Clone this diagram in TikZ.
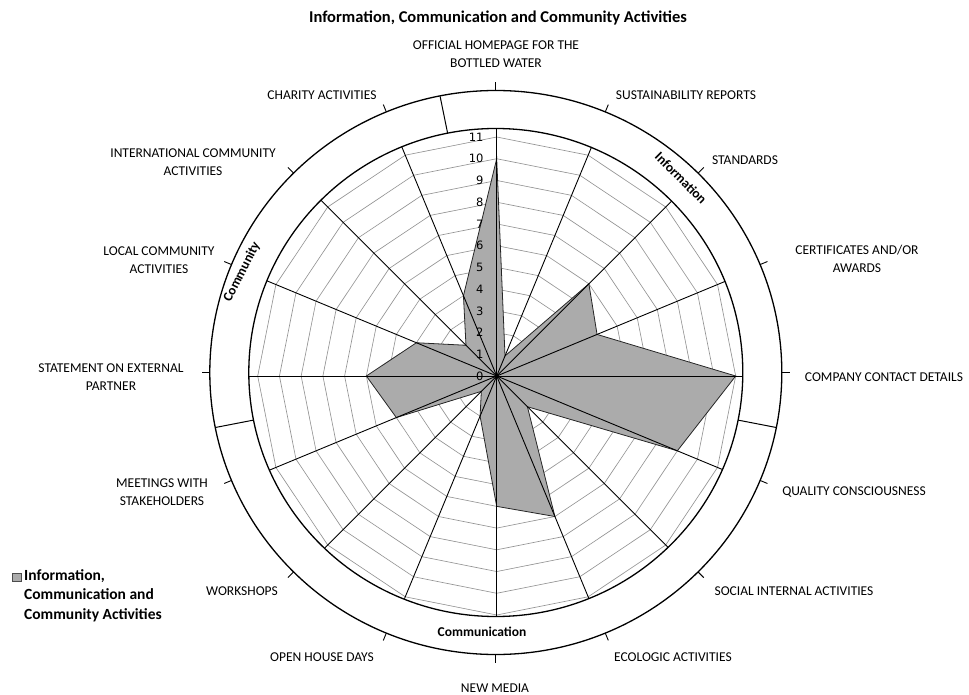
\documentclass[tikz,border=0pt]{standalone}
\usepackage{fontspec}
\setmainfont{Carlito}
\newfontfamily\numfont{DejaVu Sans}
\begin{document}
\begin{tikzpicture}[x=1pt,y=-1pt,
  cat/.style={font=\fontsize{13.5}{17.5}\selectfont, align=center, inner sep=0pt},
  sec/.style={font=\bfseries\fontsize{13.5}{15}\selectfont, inner sep=0pt},
  gridline/.style={draw=black!42, line width=0.65pt},
  spoke/.style={draw=black, line width=0.9pt},
  ring/.style={draw=black, line width=1.3pt},
  datafill/.style={fill=black!33, draw=black!85, line width=0.8pt},
  lvl/.style={font=\numfont\fontsize{11.5}{12}\selectfont, anchor=east, inner sep=0pt}]
\useasboundingbox (0,0) rectangle (969,695);
\node[font=\bfseries\fontsize{16.5}{18}\selectfont] (title) at (498,18) {Information, Communication and Community Activities};
% radar
\begin{scope}[shift={(496.7,376)}]
  \coordinate (O) at (0,0);
  \foreach \L in {1,...,11} {
    \draw[gridline] (-90:\L*21.727) \foreach \k in {1,...,15} { -- ({22.5*\k-90}:\L*21.727) } -- cycle;
  }
  \draw[datafill] (-90:10*21.727)
    \foreach \k/\v in {1/1,2/6,3/5,4/11,5/9,6/2,7/7,8/6,9/2,10/1,11/5,12/6,13/4,14/2,15/4}
      { -- ({22.5*\k-90}:\v*21.727) } -- cycle;
  \begin{scope}
    \clip (-0.7,-4) ellipse [x radius=247pt, y radius=244pt];
    \foreach \k in {0,...,15} { \draw[spoke] (O) -- ({22.5*\k-90}:300); }
  \end{scope}
  \fill (O) circle (2.2pt);
  \foreach \L in {0,...,11} { \node[lvl] (n\L) at (-13,{-\L*21.727}) {\L}; }
\end{scope}
% ring
\begin{scope}[shift={(495.8,372.5)}]
  \draw[ring] (0,0) ellipse [x radius=247pt, y radius=244pt];
  \draw[ring] (0,0) ellipse [x radius=286pt, y radius=282pt];
  \foreach \k in {0,...,15} { \draw[line width=0.9pt] ({22.5*\k-90}:286 and 282) -- ({22.5*\k-90}:294 and 290); }
  \foreach \p in {-101.25,-191.25,-348.75} { \draw[line width=1pt] (\p:247 and 244) -- (\p:286 and 282); }
\end{scope}
\node[sec, rotate=-45] (sinfo) at (681,178) {Information};
\node[sec, rotate=63] (scomm) at (242,272) {Community};
\node[sec] (scomn) at (482,632) {Communication};
% category labels
\node[cat] (c0) at (496,54) {OFFICIAL HOMEPAGE FOR THE\\BOTTLED WATER};
\node[cat] (c1) at (686,95) {SUSTAINABILITY REPORTS};
\node[cat] (c2) at (745,160) {STANDARDS};
\node[cat] (c3) at (857,259) {CERTIFICATES AND/OR\\AWARDS};
\node[cat] (c4) at (884,377) {COMPANY CONTACT DETAILS};
\node[cat] (c5) at (854,492) {QUALITY CONSCIOUSNESS};
\node[cat] (c6) at (794,591) {SOCIAL INTERNAL ACTIVITIES};
\node[cat] (c7) at (673,657) {ECOLOGIC ACTIVITIES};
\node[cat] (c8) at (495,688) {NEW MEDIA};
\node[cat] (c9) at (322,657) {OPEN HOUSE DAYS};
\node[cat] (c10) at (242,591) {WORKSHOPS};
\node[cat] (c11) at (162,492) {MEETINGS WITH\\STAKEHOLDERS};
\node[cat] (c12) at (111,377) {STATEMENT ON EXTERNAL\\PARTNER};
\node[cat] (c13) at (159,260) {LOCAL COMMUNITY\\ACTIVITIES};
\node[cat] (c14) at (193,162) {INTERNATIONAL COMMUNITY\\ACTIVITIES};
\node[cat] (c15) at (322,95) {CHARITY ACTIVITIES};
% legend
\draw[fill=black!33, draw=black!70, line width=0.8pt] (12,573) rectangle (21,581);
\node[font=\bfseries\fontsize{15.5}{19.5}\selectfont, align=left, anchor=north west, inner sep=0pt] (leg) at (24,569) {Information,\\Communication and\\Community Activities};
\end{tikzpicture}
\end{document}
